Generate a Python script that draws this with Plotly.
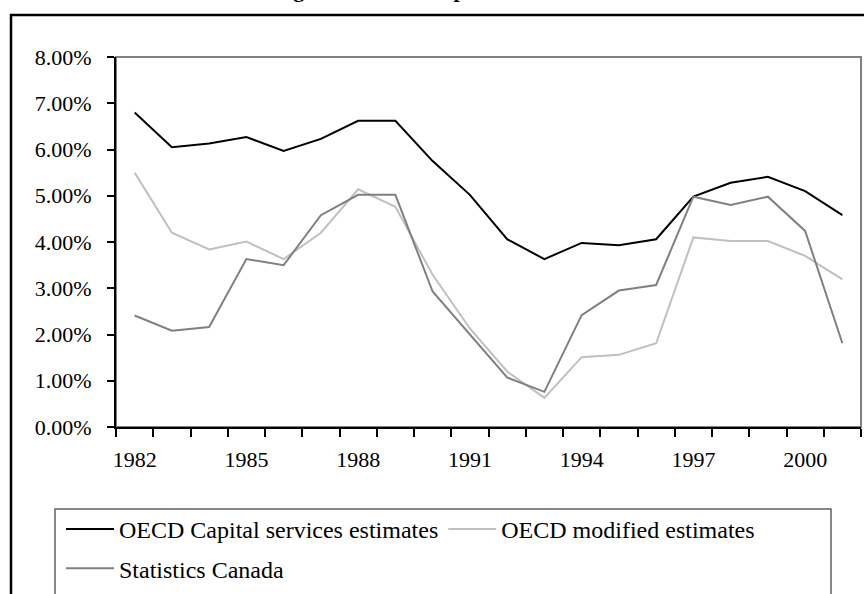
import plotly.graph_objects as go

years = [str(y) for y in range(1982, 2002)]
oecd_capital = [6.80, 6.05, 6.13, 6.27, 5.97, 6.23, 6.62, 6.62, 5.75, 5.02,
                4.06, 3.63, 3.98, 3.93, 4.06, 4.98, 5.28, 5.41, 5.10, 4.58]
oecd_modified = [5.50, 4.20, 3.84, 4.01, 3.63, 4.20, 5.14, 4.76, 3.29, 2.13,
                 1.20, 0.63, 1.51, 1.56, 1.81, 4.10, 4.02, 4.02, 3.70, 3.19]
stats_canada = [2.41, 2.08, 2.16, 3.63, 3.50, 4.58, 5.02, 5.02, 2.93, 1.99,
                1.07, 0.76, 2.42, 2.95, 3.07, 4.98, 4.80, 4.98, 4.24, 1.81]
tick_labels = [y if (int(y) - 1982) % 3 == 0 else "" for y in years]
title_text = "Canada: growth rate of capital services"

FONT = "Times New Roman, Liberation Serif, serif"

fig = go.Figure()
series = [
    ("OECD Capital services estimates", oecd_capital, "#000000"),
    ("OECD modified estimates", oecd_modified, "#c0c0c0"),
    ("Statistics Canada", stats_canada, "#808080"),
]
for i, (name, vals, col) in enumerate(series):
    fig.add_trace(go.Scatter(
        x=years, y=[v / 100 for v in vals], name=name, mode="lines",
        line=dict(color=col, width=2), legendgroup="g%d" % i,
    ))

# plot area: margins l=116, r=3, t=57, b=167 -> plot 745 x 370
W, H = 864, 594
L, R, T, B = 116, 3, 57, 167
pw, ph = W - L - R, H - T - B

def px(x):
    return (x - L) / pw

def py(y):
    return (H - B - y) / ph

fig.update_layout(
    width=W, height=H,
    margin=dict(l=L, r=R, t=T, b=B, pad=0),
    paper_bgcolor="white", plot_bgcolor="white",
    font=dict(family=FONT, size=22, color="#000000"),
    showlegend=True,
    legend=dict(
        orientation="h", x=px(61), xanchor="left", y=py(507), yanchor="top",
        borderwidth=0, bgcolor="rgba(0,0,0,0)",
        font=dict(family=FONT, size=24, color="#000000"),
        itemwidth=48, tracegroupgap=5, traceorder="grouped",
    ),
    xaxis=dict(
        type="category", tickmode="array", tickvals=years, ticktext=tick_labels,
        tickson="boundaries", ticks="outside", ticklen=8, tickwidth=1.5,
        tickcolor="#000000", showline=True, linecolor="#000000", linewidth=2,
        showgrid=False, zeroline=False, ticklabelstandoff=12, tickangle=0,
        tickfont=dict(family=FONT, size=22), range=[-0.5, 19.5],
    ),
    yaxis=dict(
        range=[0, 0.08], dtick=0.01, tickformat=".2%", ticks="outside",
        ticklen=7, tickwidth=1.5, tickcolor="#000000", showline=True,
        linecolor="#000000", linewidth=2, showgrid=False, zeroline=False,
        ticklabelstandoff=11, tickfont=dict(family=FONT, size=22),
    ),
    shapes=[
        # outer chart frame (continues past the image edge)
        dict(type="rect", xref="paper", yref="paper", x0=px(11), x1=px(880),
             y0=py(620), y1=py(15), line=dict(color="#000000", width=2.5),
             fillcolor="rgba(0,0,0,0)", layer="below"),
        # plot area border
        dict(type="rect", xref="paper", yref="paper", x0=0, x1=1, y0=0, y1=1,
             line=dict(color="#808080", width=2), layer="below"),
        # legend box
        dict(type="rect", xref="paper", yref="paper", x0=px(55), x1=px(831),
             y0=py(600), y1=py(509), line=dict(color="#606060", width=1.5),
             fillcolor="rgba(0,0,0,0)", layer="below"),
    ],
    annotations=[
        dict(text="<b>" + title_text + "</b>", xref="paper", yref="paper",
             x=px(205), xanchor="left", y=py(4.5), yanchor="bottom",
             showarrow=False, font=dict(family=FONT, size=22, color="#000000")),
    ],
)

fig.write_html("out.html")
